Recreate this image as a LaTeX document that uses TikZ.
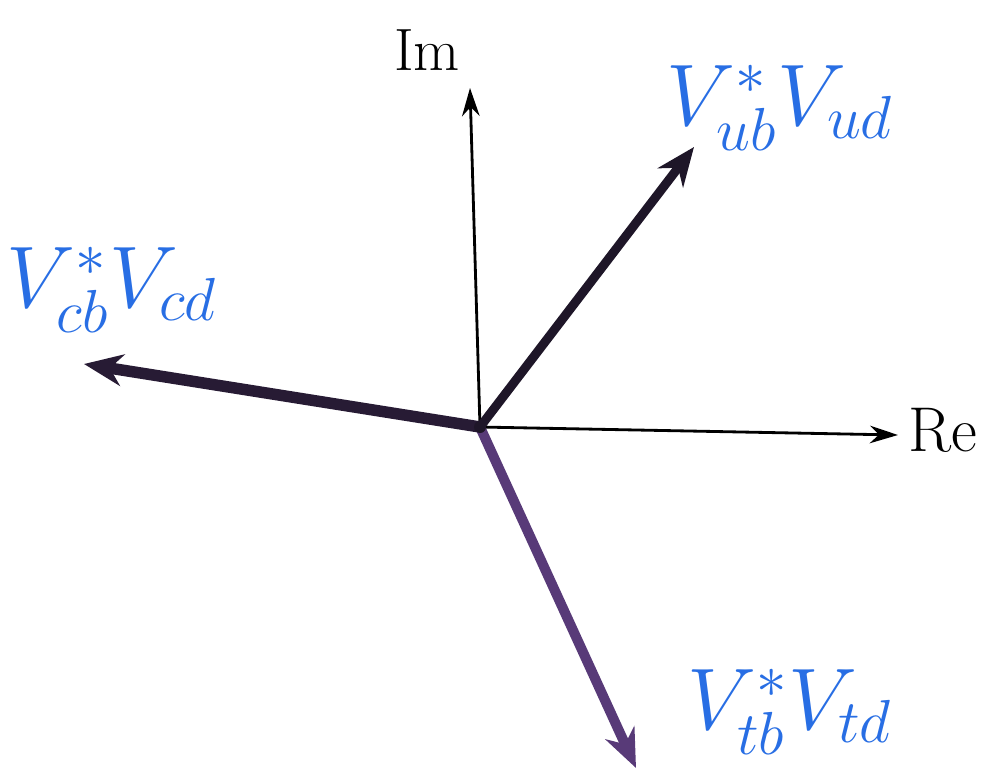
\documentclass[tikz,border=0pt]{standalone}
\usepackage{amssymb}
\usetikzlibrary{arrows.meta}
\definecolor{ink}{RGB}{40,110,228}
\definecolor{plum}{RGB}{88,58,120}
\definecolor{dark}{RGB}{30,22,40}

\begin{document}
\begin{tikzpicture}[x=0.01cm, y=-0.01cm,
    axis/.style={line width=0.8pt, -{Stealth[length=8pt, width=5pt]}},
    vec/.style={line width=#1, line cap=round, -{Stealth[length=11pt, width=9pt]}},
    lab/.style={ink, font=\fontsize{26}{28}\selectfont}]
  \useasboundingbox (0,0) rectangle (984,781);
  \coordinate (O) at (480,427);
  \coordinate (im) at (470,88);
  \coordinate (re) at (898,435);
  \coordinate (ub) at (694,147);
  \coordinate (cb) at (84,364);
  \coordinate (tb) at (636,768);
  \draw[axis] (O) -- (im);
  \draw[axis] (O) -- (re);
  \draw[vec=0.9mm, dark] (O) -- (ub);
  \draw[vec=1.15mm, dark!85!plum] (O) -- (cb);
  \draw[vec=1mm, plum] (O) -- (tb);
  \fill[dark] (O) circle (6);
  \node[font=\fontsize{17}{19}\selectfont] (imlab) at (427,50) {Im};
  \node[font=\fontsize{18}{20}\selectfont, anchor=west, inner sep=1pt] (relab) at (904,430) {Re};
  \node[lab] (ublab) at (780,108) {$V_{ub}^{*}V_{ud}$};
  \node[lab] (cblab) at (112,290) {$V_{cb}^{*}V_{cd}$};
  \node[lab] (tblab) at (790,712) {$V_{tb}^{*}V_{td}$};
\end{tikzpicture}
\end{document}
